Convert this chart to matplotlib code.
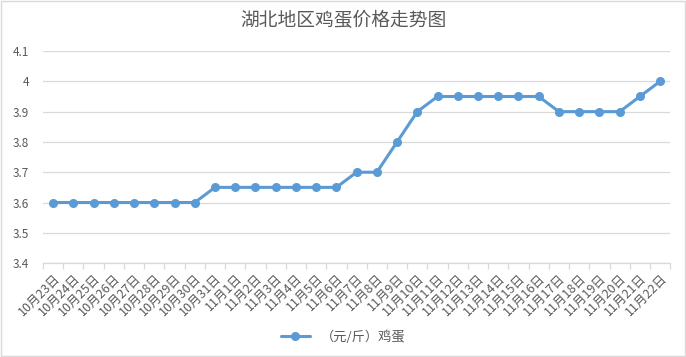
import matplotlib
matplotlib.use("Agg")
import matplotlib.pyplot as plt
from matplotlib.patches import Rectangle

plt.rcParams["font.family"] = ["Noto Sans CJK SC", "DejaVu Sans"]

# --- data ---
dates = (
    [f"10月{d}日" for d in range(23, 32)]
    + [f"11月{d}日" for d in range(1, 23)]
)
prices = [
    3.60, 3.60, 3.60, 3.60, 3.60, 3.60, 3.60, 3.60,
    3.65, 3.65, 3.65, 3.65, 3.65, 3.65, 3.65,
    3.70, 3.70, 3.80, 3.90,
    3.95, 3.95, 3.95, 3.95, 3.95, 3.95,
    3.90, 3.90, 3.90, 3.90,
    3.95, 4.00,
]
yticks = [3.4, 3.5, 3.6, 3.7, 3.8, 3.9, 4.0, 4.1]
ytick_labels = ["3.4", "3.5", "3.6", "3.7", "3.8", "3.9", "4", "4.1"]
series_name = "（元/斤）鸡蛋"
title = "湖北地区鸡蛋价格走势图"

TEXT = "#595959"
GRID = "#d9d9d9"
BLUE = "#5b9bd5"

fig = plt.figure(figsize=(6.86, 3.57), dpi=100)
ax = fig.add_axes([0.0627, 0.263, 0.9143, 0.594])

x = list(range(len(dates)))
ax.plot(x, prices, color=BLUE, lw=2.2, marker="o", ms=5.5,
        label=series_name, solid_capstyle="round")

ax.set_xlim(-0.5, len(dates) - 0.5)
ax.set_ylim(3.4, 4.1)
ax.set_yticks(yticks)
ax.set_yticklabels(ytick_labels)
ax.yaxis.grid(True, color=GRID, lw=0.9)
ax.set_axisbelow(True)

ax.set_xticks(x)
ax.set_xticklabels(dates, rotation=45, ha="right", va="top",
                   rotation_mode="anchor")
ax.set_xticks([i + 0.5 for i in range(-1, len(dates))], minor=True)
ax.tick_params(axis="x", which="major", length=0, pad=6,
               labelsize=9, labelcolor=TEXT)
ax.tick_params(axis="x", which="minor", length=4, width=0.9, color=GRID)
ax.tick_params(axis="y", length=0, pad=10, labelsize=8.5, labelcolor=TEXT)

for side in ["left", "right", "top"]:
    ax.spines[side].set_visible(False)
ax.spines["bottom"].set_color(GRID)
ax.spines["bottom"].set_linewidth(0.9)

fig.text(0.5, 0.944, title, ha="center", va="center",
         fontsize=13.5, color=TEXT)

fig.legend(loc="center", bbox_to_anchor=(0.5, 0.056), frameon=False,
           fontsize=9.5, labelcolor=TEXT, handlelength=2.2)

fig.patches.append(Rectangle((0.001, 0.002), 0.997, 0.995,
                             transform=fig.transFigure, fill=False,
                             edgecolor=GRID, lw=1))

fig.savefig("out.png", dpi=100)
